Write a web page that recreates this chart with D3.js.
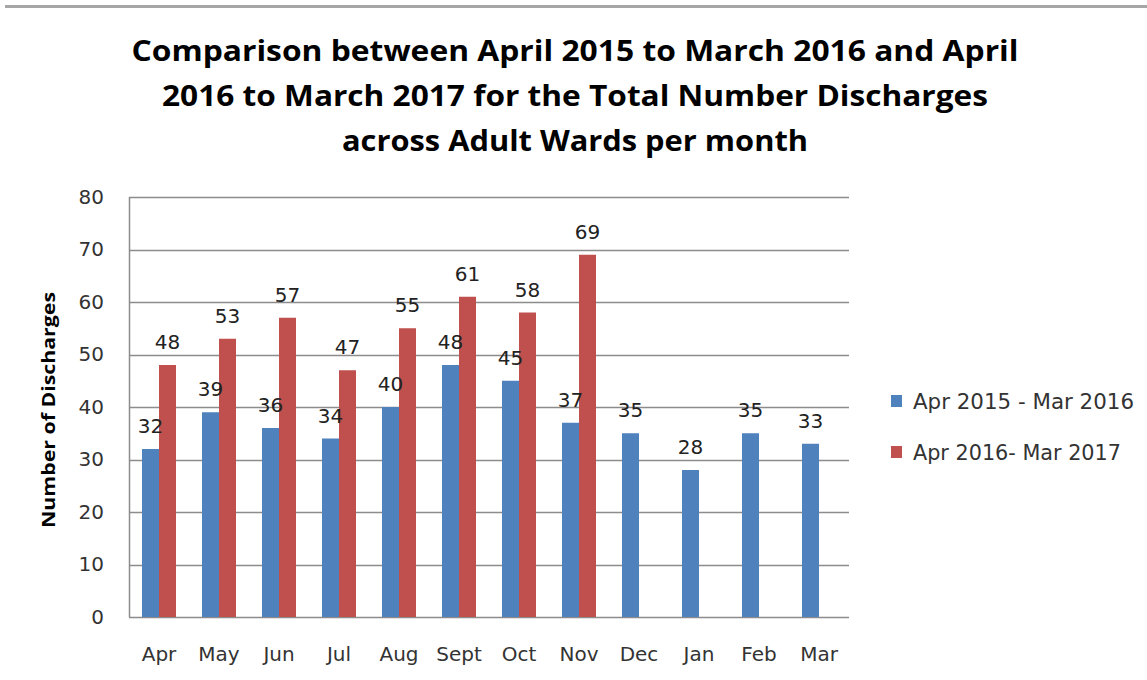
<!DOCTYPE html>
<html>
<head>
<meta charset="utf-8">
<script src="https://cdn.jsdelivr.net/npm/d3@7"></script>
<style>
  body { margin: 0; background: #fff; }
  svg { display: block; }
</style>
</head>
<body>
<svg id="chart" width="1147" height="680"></svg>
<script>
// data
var months = ["Apr", "May", "Jun", "Jul", "Aug", "Sept", "Oct", "Nov", "Dec", "Jan", "Feb", "Mar"];
var series2015 = [32, 39, 36, 34, 40, 48, 45, 37, 35, 28, 35, 33];
var series2016 = [48, 53, 57, 47, 55, 61, 58, 69, null, null, null, null];
var seriesNames = ["Apr 2015 - Mar 2016", "Apr 2016- Mar 2017"];
var yTicks = [0, 10, 20, 30, 40, 50, 60, 70, 80];
var titleLines = ["Comparison between April 2015 to March 2016 and April",
                  "2016 to March 2017 for the Total Number Discharges",
                  "across Adult Wards per month"];

var colors = ["#4F81BD", "#C0504D"];
var labelFont = "'DejaVu Sans', Verdana, sans-serif";
var svg = d3.select("#chart");
var margin = {top: 197, left: 129, right: 298, bottom: 63};
var width = 1147 - margin.left - margin.right;
var height = 680 - margin.top - margin.bottom;

// top rule from the page the chart came from
svg.append("rect").attr("x", 5).attr("y", 5).attr("width", 1142).attr("height", 3).attr("fill", "#a6a6a6");

// title
svg.selectAll(".title")
    .data(titleLines)
  .enter().append("text")
    .attr("class", "title")
    .attr("x", 575)
    .attr("y", function(d, i) { return 61 + i * 45; })
    .attr("text-anchor", "middle")
    .style("font-family", "'Open Sans', sans-serif")
    .style("font-weight", "700")
    .style("font-size", "29px")
    .attr("fill", "#000")
    .attr("textLength", function(d, i) { return [887, 826, 466][i]; })
    .attr("lengthAdjust", "spacingAndGlyphs")
    .text(function(d) { return d; });

var x0 = d3.scaleBand().domain(months).range([0, width]);
var x1 = d3.scaleBand().domain([0, 1]).range([0, 34]);
var y = d3.scaleLinear().domain([0, 80]).range([height, 0]);

var g = svg.append("g")
    .attr("transform", "translate(" + margin.left + "," + margin.top + ")");

// gridlines
g.selectAll(".grid")
    .data(yTicks)
  .enter().append("line")
    .attr("class", "grid")
    .attr("x1", 0).attr("x2", width)
    .attr("y1", function(d) { return Math.round(y(d)) + 0.5; })
    .attr("y2", function(d) { return Math.round(y(d)) + 0.5; })
    .attr("stroke", "#8c8c8c")
    .attr("stroke-width", 1.5);

g.append("line")
    .attr("x1", 0.5).attr("x2", 0.5)
    .attr("y1", 0).attr("y2", height)
    .attr("stroke", "#8c8c8c").attr("stroke-width", 1.5);

// y tick labels
g.append("g")
    .attr("class", "y axis")
    .call(d3.axisLeft(y).tickValues(yTicks).tickSize(0).tickPadding(25))
    .call(function(s) { s.select(".domain").remove(); })
    .selectAll("text")
    .style("font-family", labelFont)
    .style("font-size", "20px")
    .attr("fill", "#333");

// x tick labels
g.append("g")
    .attr("class", "x axis")
    .attr("transform", "translate(0," + height + ")")
    .call(d3.axisBottom(x0).tickSize(0).tickPadding(30))
    .call(function(s) { s.select(".domain").remove(); })
    .selectAll("text")
    .style("font-family", labelFont)
    .style("font-size", "20px")
    .attr("fill", "#333");

var allSeries = [series2015, series2016];
var bars = [];
allSeries.forEach(function(vals, si) {
  vals.forEach(function(v, i) {
    if (v !== null) bars.push({month: months[i], s: si, v: v});
  });
});

function barX(d) { return x0(d.month) + x0.bandwidth() / 2 - 17 + x1(d.s); }

g.selectAll(".bar")
    .data(bars)
  .enter().append("rect")
    .attr("class", "bar")
    .attr("x", barX)
    .attr("width", x1.bandwidth())
    .attr("y", function(d) { return y(d.v); })
    .attr("height", function(d) { return height - y(d.v); })
    .attr("fill", function(d) { return colors[d.s]; });

g.selectAll(".lbl")
    .data(bars)
  .enter().append("text")
    .attr("class", "lbl")
    .attr("x", function(d) { return barX(d) + x1.bandwidth() / 2; })
    .attr("y", function(d) { return y(d.v) - 16; })
    .attr("text-anchor", "middle")
    .style("font-family", labelFont)
    .style("font-size", "20px")
    .attr("fill", "#222")
    .text(function(d) { return d.v; });

// y axis title
svg.append("text")
    .attr("transform", "translate(55,410) rotate(-90)")
    .attr("text-anchor", "middle")
    .style("font-family", "'Open Sans', sans-serif")
    .style("font-weight", "700")
    .style("font-size", "17px")
    .attr("textLength", 236)
    .attr("lengthAdjust", "spacingAndGlyphs")
    .text("Number of Discharges");

// legend
var legend = svg.selectAll(".legend")
    .data(seriesNames)
  .enter().append("g")
    .attr("class", "legend")
    .attr("transform", function(d, i) { return "translate(891," + (395 + i * 51) + ")"; });

legend.append("rect")
    .attr("width", 11).attr("height", 12)
    .attr("fill", function(d, i) { return colors[i]; });

legend.append("text")
    .attr("x", 22).attr("y", 14)
    .style("font-family", labelFont)
    .style("font-size", "21px")
    .attr("fill", "#333")
    .attr("textLength", function(d, i) { return [221, 208][i]; })
    .attr("lengthAdjust", "spacingAndGlyphs")
    .text(function(d) { return d; });
</script>
</body>
</html>
